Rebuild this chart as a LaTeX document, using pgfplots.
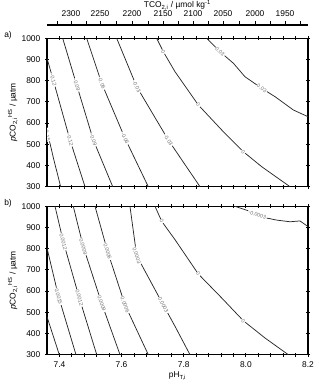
\documentclass[border=0pt]{standalone}
\usepackage{fontspec}
\setmainfont{Liberation Sans}
\usepackage{pgfplots}
\pgfplotsset{compat=1.18}
\newcommand{\clab}[5]{\addplot[draw=none,no marks] coordinates {(#1) (#2)} node[pos=0.5,sloped,fill=white,inner sep=0.6pt,text=black!55,font=\fontsize{4}{4}\selectfont]{#5};}
\begin{document}
\begin{tikzpicture}
\useasboundingbox (-35.25pt,-21.975pt) rectangle (203.25pt,266.025pt);
\pgfplotsset{
  every axis/.append style={font=\fontsize{6.3}{7.5}\selectfont},
  panel/.style={width=195.75pt,height=111.3pt,scale only axis,
    xmin=7.36,xmax=8.2,ymin=300,ymax=1000,
    xtick={7.4,7.6,7.8,8.0,8.2}, minor x tick num=4,
    ytick={300,400,...,1000},
    tick align=center, major tick length=3pt, minor tick length=3pt,
    axis line style={line width=0.9pt},
    every tick/.style={black,line width=0.6pt},
    /pgf/number format/assume math mode=true,
    yticklabel style={/pgf/number format/1000 sep={}},
    xticklabel style={/pgf/number format/.cd,fixed,fixed zerofill,precision=1},
    ylabel={\textit{p}CO\textsubscript{2,i}\textsuperscript{HS} / µatm},
    every axis y label/.style={at={(axis description cs:0,0.5)},xshift=-25.5pt,rotate=90,anchor=center},
    every axis x label/.style={at={(axis description cs:0.5,0)},yshift=-16pt,anchor=center},
  },
  cl/.style={black!85,line width=0.55pt,no marks},
}
% ---------- panel a ----------
\begin{axis}[panel,at={(0pt,126pt)},anchor=south west,xticklabels={}]
\addplot[cl] coordinates {(7.36,565) (7.3815,430) (7.404,300)};
\clab{7.3598,553}{7.3618,537}{}{}{-0.15}
\addplot[cl] coordinates {(7.36,905.7) (7.380,803.3) (7.434,520.3) (7.4823,300)};
\clab{7.3771,818.3}{7.3829,788.3}{}{}{-0.12}
\clab{7.431,535.3}{7.437,505.3}{}{}{-0.12}
\addplot[cl] coordinates {(7.4105,1000) (7.4556,779.7) (7.509,520.3) (7.5715,300)};
\clab{7.4525,794.7}{7.4587,764.7}{}{}{-0.09}
\clab{7.5054,535.3}{7.5126,505.3}{}{}{-0.09}
\addplot[cl] coordinates {(7.4878,1000) (7.536,787.7) (7.611,528.3) (7.686,300)};
\clab{7.5321,802.7}{7.5399,772.7}{}{}{-0.06}
\clab{7.6064,543.3}{7.6156,513.3}{}{}{-0.06}
\addplot[cl] coordinates {(7.5843,1000) (7.6487,771.7) (7.7504,520.3) (7.8524,300)};
\clab{7.6435,786.7}{7.6539,756.7}{}{}{-0.03}
\clab{7.7439,535.3}{7.7569,505.3}{}{}{-0.03}
\addplot[cl] coordinates {(7.713,1000) (7.7343,936.8) (7.772,842.4) (7.847,685.4) (7.9223,567.5) (7.9918,465.1) (8.051,394.3) (8.142,300)};
\clab{7.7287,951.8}{7.7399,921.8}{}{}{0}
\clab{7.8388,700.4}{7.8552,670.4}{}{}{0}
\clab{7.9807,480.1}{8.0029,450.1}{}{}{0}
\addplot[cl] coordinates {(7.874,1000) (7.9168,936.8) (7.96,882) (7.997,818.9) (8.051,764) (8.094,724.5) (8.153,661.7) (8.2,630.2)};
\clab{7.9059,951.8}{7.9277,921.8}{}{}{0.03}
\clab{8.0356,779}{8.0664,749}{}{}{0.03}
\end{axis}
% ---------- top TCO2 axis ----------
\begin{axis}[width=195.75pt,height=1pt,scale only axis,at={(0pt,246.3pt)},anchor=south west,
  xmin=7.36,xmax=8.2,ymin=0,ymax=1,
  axis x line*=top, hide y axis,
  axis line style={line width=0.9pt,-},
  tick align=outside, major tick length=3pt, minor tick length=3pt,
  every tick/.style={black,line width=0.6pt},
  xtick={7.4372,7.5306,7.6336,7.7334,7.8299,7.9265,8.0295,8.126},
  xticklabels={2300,2250,2200,2150,2100,2050,2000,1950},
  minor xtick={7.395,7.4855,7.582,7.685,7.7816,7.878,7.978,8.0777,8.174},
  xlabel={TCO\textsubscript{2,i} / µmol kg\textsuperscript{-1}},
  every axis x label/.style={at={(axis description cs:0.5,1)},yshift=15pt,anchor=center},
]
\addplot[draw=none] coordinates {(7.5,0.5)};
\end{axis}
% ---------- panel b ----------
\begin{axis}[panel,at={(0pt,0pt)},anchor=south west,xlabel={pH\textsubscript{T,i}}]
\addplot[cl] coordinates {(7.36,479) (7.3798,389.5) (7.3996,300)};
\addplot[cl] coordinates {(7.36,803.3) (7.397,575) (7.4533,300)};
\clab{7.3942,590}{7.3998,560}{}{}{0.0015}
\addplot[cl] coordinates {(7.3858,1000) (7.4125,833) (7.464,567.5) (7.52,300)};
\clab{7.4098,848}{7.4152,818}{}{}{0.0012}
\clab{7.461,582.5}{7.467,552.5}{}{}{0.0012}
\addplot[cl] coordinates {(7.4446,1000) (7.4768,809.4) (7.536,542) (7.595,300)};
\clab{7.4738,824.4}{7.4798,794.4}{}{}{0.0009}
\clab{7.5325,557}{7.5395,527}{}{}{0.0009}
\addplot[cl] coordinates {(7.5145,1000) (7.555,787) (7.611,535) (7.686,300)};
\clab{7.5519,802}{7.5581,772}{}{}{0.0006}
\clab{7.607,550}{7.615,520}{}{}{0.0006}
\addplot[cl] coordinates {(7.627,1000) (7.6487,767) (7.7343,534.4) (7.772,434) (7.8202,300)};
\clab{7.6452,782}{7.6522,752}{}{}{0.0003}
\clab{7.7288,549.4}{7.7398,519.4}{}{}{0.0003}
\addplot[cl] coordinates {(7.7076,1000) (7.7292,929.2) (7.772,842.5) (7.847,680.7) (7.9223,567.5) (7.9918,460.4) (8.0616,378.8) (8.1366,300)};
\clab{7.7231,944.2}{7.7353,914.2}{}{}{0}
\clab{7.8388,695.7}{7.8552,665.7}{}{}{0}
\clab{7.9808,475.4}{8.0028,445.4}{}{}{0}
\addplot[cl] coordinates {(7.965,1000) (8.0295,968.4) (8.046,951) (8.099,935) (8.142,927) (8.174,931) (8.2,904.7)};
\clab{8.0205,968}{8.0535,952}{}{}{-0.0003}
\end{axis}
\node[font=\fontsize{6.3}{7.5}\selectfont] at (-29.25pt,239.8pt) {a)};
\node[font=\fontsize{6.3}{7.5}\selectfont] at (-29.25pt,113.5pt) {b)};
\end{tikzpicture}
\end{document}
